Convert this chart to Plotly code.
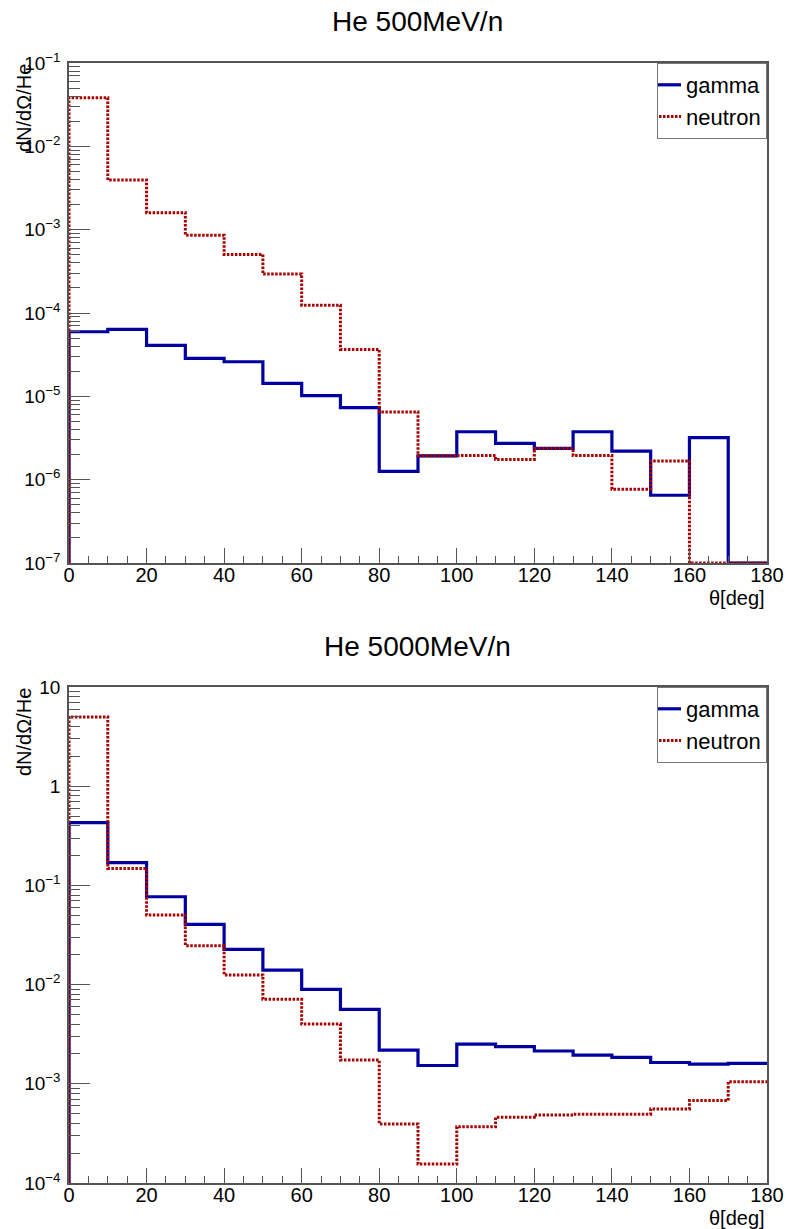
import plotly.graph_objects as go

# ---------------- data ----------------
bin_edges = [0, 10, 20, 30, 40, 50, 60, 70, 80, 90, 100, 110, 120, 130, 140, 150, 160, 170, 180]

# He 500 MeV/n
gamma_500 = [5.96e-5, 6.35e-5, 4.08e-5, 2.85e-5, 2.6e-5, 1.43e-5, 1.02e-5, 7.3e-6, 1.26e-6,
             1.93e-6, 3.76e-6, 2.72e-6, 2.37e-6, 3.76e-6, 2.2e-6, 6.5e-7, 3.2e-6, 0]
neutron_500 = [3.84e-2, 3.94e-3, 1.6e-3, 8.6e-4, 5.05e-4, 2.93e-4, 1.24e-4, 3.66e-5, 6.5e-6,
               1.93e-6, 1.95e-6, 1.75e-6, 2.37e-6, 1.95e-6, 7.7e-7, 1.68e-6, 0, 0]

# He 5000 MeV/n
gamma_5000 = [0.43, 0.17, 0.0768, 0.0405, 0.0226, 0.014, 0.00896, 0.00563, 0.00219,
              0.00153, 0.00251, 0.00237, 0.00214, 0.00195, 0.00185, 0.00164, 0.00158, 0.00161]
neutron_5000 = [4.99, 0.148, 0.0502, 0.0247, 0.0125, 0.0071, 0.0040, 0.00174, 3.94e-4,
                1.55e-4, 3.7e-4, 4.6e-4, 4.86e-4, 4.94e-4, 4.94e-4, 5.58e-4, 6.77e-4, 1.05e-3]

titles = ["He 500MeV/n", "He 5000MeV/n"]
series_names = ["gamma", "neutron"]
x_title = "θ[deg]"
y_title = "dN/dΩ/He"
x_tick_vals = [0, 20, 40, 60, 80, 100, 120, 140, 160, 180]
y_exp_top = [-7, -6, -5, -4, -3, -2, -1]
y_exp_bottom = [-4, -3, -2, -1, 0, 1]

# ---------------- styling ----------------
W, H = 787, 1229
BLUE = "#0000a0"
RED = "#a80000"
AXC = "#555555"
FONT = "Liberation Sans, Arial, Helvetica, sans-serif"

x0_px, x1_px = 69, 767
panels = [
    dict(top=63, bottom=563, exps=y_exp_top, gam=gamma_500, neu=neutron_500),
    dict(top=687, bottom=1183, exps=y_exp_bottom, gam=gamma_5000, neu=neutron_5000),
]


def step_xy(values, floor):
    vals = [v if v > 0 else floor for v in values]
    xs = [bin_edges[0]] + bin_edges[:-1] + [bin_edges[-1]]
    ys = [floor] + vals + [vals[-1]]
    return xs, ys


def exp_label(p):
    if p == 0:
        return "1"
    if p == 1:
        return "10"
    return "10<sup>" + ("−" if p < 0 else "") + str(abs(p)) + "</sup>"


fig = go.Figure()
layout = dict(
    width=W, height=H,
    margin=dict(l=0, r=0, t=0, b=0),
    paper_bgcolor="white", plot_bgcolor="white",
    font=dict(family=FONT, color="black"),
    showlegend=True,
    annotations=[], shapes=[],
)

for i, p in enumerate(panels):
    xa = "xaxis" if i == 0 else "xaxis2"
    ya = "yaxis" if i == 0 else "yaxis2"
    xref = "x" if i == 0 else "x2"
    yref = "y" if i == 0 else "y2"
    lg = "legend" if i == 0 else "legend2"
    lo, hi = p["exps"][0], p["exps"][-1]
    floor = 10 ** lo

    xs, ys = step_xy(p["gam"], floor)
    fig.add_trace(go.Scatter(x=xs, y=ys, mode="lines", line=dict(shape="hv", color=BLUE, width=3.2),
                             name=series_names[0], xaxis=xref, yaxis=yref, legend=lg))
    xs, ys = step_xy(p["neu"], floor)
    fig.add_trace(go.Scatter(x=xs, y=ys, mode="lines",
                             line=dict(shape="hv", color=RED, width=3, dash="2.5px,1.5px"),
                             name=series_names[1], xaxis=xref, yaxis=yref, legend=lg))

    ydom = [1 - p["bottom"] / H, 1 - p["top"] / H]
    minor_y = [m * 10 ** e for e in range(lo, hi) for m in range(2, 10)]
    layout[xa] = dict(
        domain=[x0_px / W, x1_px / W], range=[0, 180], anchor=yref,
        tickmode="array", tickvals=x_tick_vals, ticktext=[str(v) for v in x_tick_vals],
        ticks="inside", ticklen=15, tickwidth=1, tickcolor=AXC,
        minor=dict(tickmode="array", tickvals=[v for v in range(0, 181, 5) if v % 20], ticks="inside",
                   ticklen=7, tickcolor=AXC, tickwidth=1, showgrid=False),
        showline=True, linecolor=AXC, linewidth=1.5, mirror=True,
        showgrid=False, zeroline=False, automargin=False,
        tickfont=dict(size=20, family=FONT), ticklabelstandoff=-7,
    )
    layout[ya] = dict(
        domain=ydom, type="log", range=[lo, hi], anchor=xref,
        tickmode="array", tickvals=[10 ** e for e in p["exps"]], ticktext=[exp_label(e) for e in p["exps"]],
        ticks="inside", ticklen=21, tickwidth=1, tickcolor=AXC,
        minor=dict(tickmode="array", tickvals=minor_y, ticks="inside", ticklen=11,
                   tickcolor=AXC, tickwidth=1, showgrid=False),
        showline=True, linecolor=AXC, linewidth=1.5, mirror=True,
        showgrid=False, zeroline=False, automargin=False,
        tickfont=dict(size=19, family=FONT), ticklabelstandoff=3,
    )
    layout[lg] = dict(
        x=x1_px / W, y=1 - p["top"] / H, xanchor="right", yanchor="top",
        bgcolor="white", bordercolor="#777777", borderwidth=1,
        font=dict(size=22, family=FONT), itemwidth=30, tracegroupgap=0,
        itemclick=False, itemdoubleclick=False, indentation=-12,
    )
    # title
    layout["annotations"].append(dict(
        text=titles[i], xref="paper", yref="paper",
        x=418 / W, y=1 - (p["top"] - 41) / H, xanchor="center", yanchor="middle",
        showarrow=False, font=dict(size=28, family=FONT)))
    # y title
    layout["annotations"].append(dict(
        text=y_title, xref="paper", yref="paper", textangle=-90,
        x=24 / W, y=1 - (p["top"] - 1) / H, xanchor="center", yanchor="top",
        showarrow=False, font=dict(size=20, family=FONT)))
    # x title
    layout["annotations"].append(dict(
        text=x_title, xref="paper", yref="paper",
        x=x1_px / W, y=1 - (p["bottom"] + 35) / H, xanchor="right", yanchor="middle",
        showarrow=False, font=dict(size=20, family=FONT)))

fig.update_layout(**layout)
fig.write_html("out.html", config={"displayModeBar": False},
               post_script="document.body.style.margin='0';document.body.style.overflow='hidden';")
